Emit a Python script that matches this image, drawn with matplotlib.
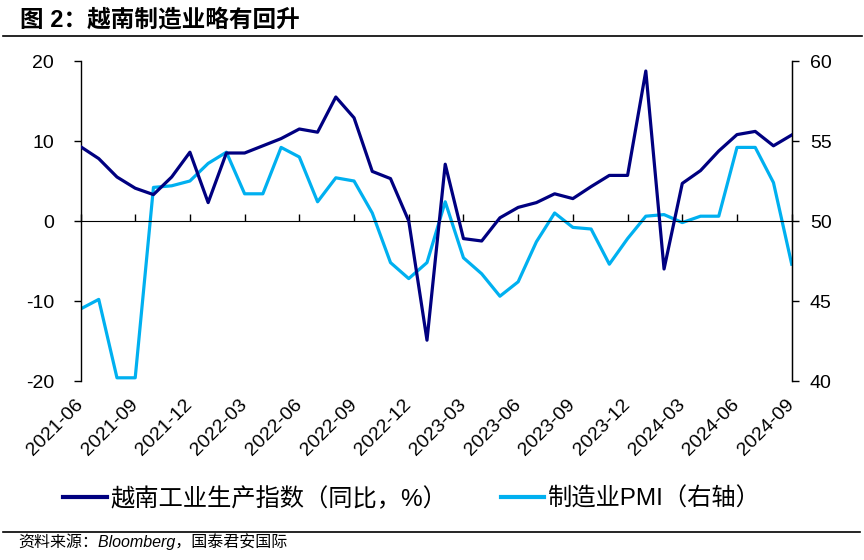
import matplotlib
matplotlib.use("Agg")
import matplotlib.pyplot as plt
from matplotlib.lines import Line2D

plt.rcParams['font.family'] = ['Liberation Sans', 'Noto Sans CJK SC', 'DejaVu Sans']
plt.rcParams['axes.unicode_minus'] = False

months = ['2021-06', '2021-07', '2021-08', '2021-09', '2021-10', '2021-11', '2021-12',
          '2022-01', '2022-02', '2022-03', '2022-04', '2022-05', '2022-06', '2022-07',
          '2022-08', '2022-09', '2022-10', '2022-11', '2022-12', '2023-01', '2023-02',
          '2023-03', '2023-04', '2023-05', '2023-06', '2023-07', '2023-08', '2023-09',
          '2023-10', '2023-11', '2023-12', '2024-01', '2024-02', '2024-03', '2024-04',
          '2024-05', '2024-06', '2024-07', '2024-08', '2024-09']

ipi_yoy = [9.3, 7.8, 5.5, 4.1, 3.3, 5.5, 8.6, 2.3, 8.5, 8.5,
           9.4, 10.3, 11.5, 11.1, 15.5, 12.9, 6.2, 5.3, 0.0, -14.9,
           7.1, -2.2, -2.5, 0.4, 1.7, 2.3, 3.4, 2.8, 4.3, 5.7,
           5.7, 18.75, -6.0, 4.7, 6.3, 8.75, 10.8, 11.2, 9.4, 10.75]

pmi = [44.5, 45.1, 40.2, 40.2, 52.1, 52.2, 52.5, 53.6, 54.3, 51.7,
       51.7, 54.6, 54.0, 51.2, 52.7, 52.5, 50.5, 47.4, 46.4, 47.4,
       51.2, 47.7, 46.7, 45.3, 46.2, 48.7, 50.5, 49.6, 49.5, 47.3,
       48.9, 50.3, 50.4, 49.9, 50.3, 50.3, 54.6, 54.6, 52.4, 47.3]

left_ticks = [-20, -10, 0, 10, 20]
right_ticks = [40, 45, 50, 55, 60]

title = '图 2：越南制造业略有回升'
label_ipi = '越南工业生产指数（同比，%）'
label_pmi = '制造业PMI（右轴）'
source = '资料来源：Bloomberg，国泰君安国际'

navy = '#000080'
sky = '#00B0F0'

fig = plt.figure(figsize=(8.64, 5.6), dpi=100)
ax = fig.add_axes([80.5 / 864, 1 - 381 / 560, (791.7 - 80.5) / 864, 320 / 560])
ax2 = ax.twinx()

x = list(range(len(months)))
ax.plot(x, ipi_yoy, color=navy, lw=2.3, zorder=3)
ax2.plot(x, pmi, color=sky, lw=2.3, zorder=2)
ax.set_zorder(ax2.get_zorder() + 1)
ax.patch.set_visible(False)

ax.set_xlim(0, len(months) - 1)
ax.set_ylim(-20, 20)
ax2.set_ylim(40, 60)
ax.set_yticks(left_ticks)
ax2.set_yticks(right_ticks)

tick_pos = x[::3]
ax.set_xticks(tick_pos)
ax.set_xticklabels([months[i] for i in tick_pos], rotation=45, ha='right',
                   va='center', rotation_mode='anchor', fontsize=14)
ax.tick_params(axis='x', length=0, pad=15)
ax.tick_params(axis='y', direction='out', length=5, width=1, labelsize=14, pad=14)
ax2.tick_params(axis='y', direction='out', length=5, width=1, labelsize=14, pad=8)

for a in (ax, ax2):
    a.spines['top'].set_visible(False)
    a.spines['bottom'].set_visible(False)
ax2.spines['left'].set_visible(False)
ax.spines['left'].set_linewidth(1)
ax2.spines['right'].set_linewidth(1)

sec = ax.secondary_xaxis(0.5)
sec.set_xticks(tick_pos)
sec.set_xticklabels([])
sec.tick_params(axis='x', direction='out', length=5, width=1)
sec.spines['bottom'].set_linewidth(1)

fig.text(20 / 864, 1 - 20 / 560, title, fontsize=17, fontweight='bold',
         va='center', ha='left')
fig.add_artist(Line2D([3 / 864, 862 / 864], [1 - 36 / 560, 1 - 36 / 560],
                      color='black', lw=1.2))
fig.add_artist(Line2D([3 / 864, 860 / 864], [1 - 532 / 560, 1 - 532 / 560],
                      color='black', lw=1.2))

handles = [Line2D([], [], color=navy, lw=3), Line2D([], [], color=sky, lw=3)]
fig.legend(handles, [label_ipi, label_pmi], loc='center left',
           bbox_to_anchor=(63 / 864, 1 - 499 / 560), ncol=2, frameon=False,
           fontsize=17.5, handlelength=1.8, handletextpad=0.15,
           columnspacing=2.2, borderaxespad=0, borderpad=0)

fig.text(18 / 864, 1 - 542 / 560, source, fontsize=11.5, style='italic',
         va='center', ha='left')

fig.savefig('out.png', dpi=100)
